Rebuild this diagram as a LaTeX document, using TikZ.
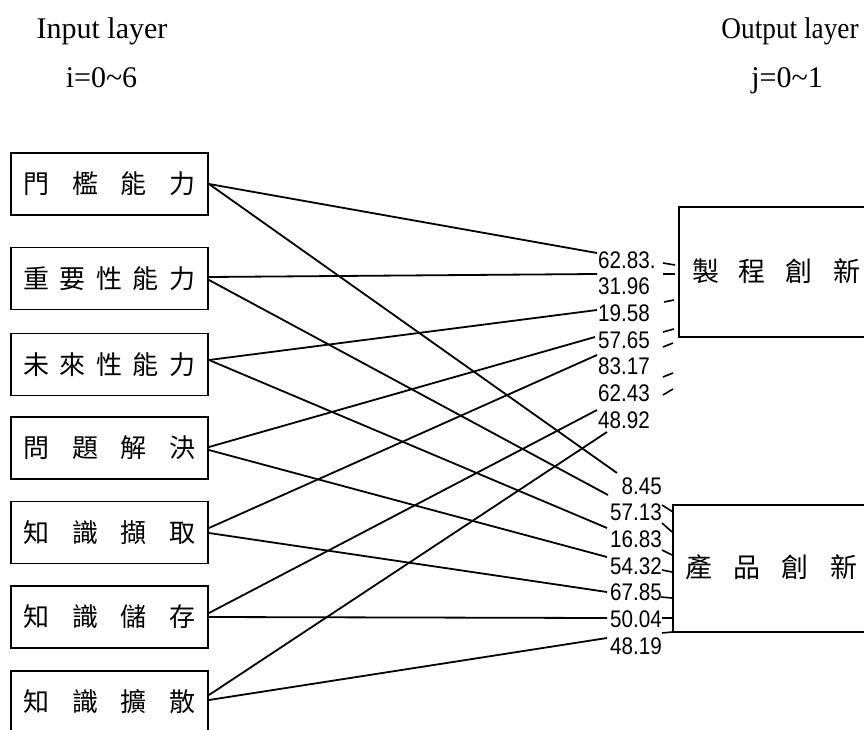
\documentclass[tikz,border=0pt]{standalone}
\usepackage{fontspec}
\setmainfont{Liberation Serif}
\newfontfamily\cjk{Noto Sans CJK TC}
\newfontfamily\numfont{Liberation Sans}
\usetikzlibrary{calc}
\begin{document}
\begin{tikzpicture}[x=1pt,y=-1pt,
  inbox/.style={draw, line width=1.9pt, minimum width=197pt, minimum height=62pt, inner sep=0pt, font=\cjk\fontsize{26}{26}\selectfont},
  outbox/.style={draw, line width=1.9pt, inner sep=0pt, font=\cjk\fontsize{27}{27}\selectfont},
  wlab/.style={inner sep=0pt, anchor=west, font=\numfont\fontsize{24}{24}\selectfont},
  elab/.style={inner sep=0pt, anchor=east, font=\numfont\fontsize{24}{24}\selectfont},
  hdr/.style={inner sep=0pt, anchor=base, font=\fontsize{30}{30}\selectfont},
  conn/.style={line width=1.8pt},
  tickmark/.style={line width=1.6pt}]
\useasboundingbox (0,0) rectangle (864,730);
\clip (0,0) rectangle (864,730);

% headers
\node[hdr] (hin) at (102,39) {Input layer};
\node[hdr] (hi) at (101.5,88) {i=0\textasciitilde 6};
\node[hdr] (hout) at (790,39) {\scalebox{0.91}[1]{Output layer}};
\node[hdr] (hj) at (787,88) {j=0\textasciitilde 1};

% input boxes
\node[inbox] (b1) at (109.5,184)   {\makebox[172pt]{門\hfill 檻\hfill 能\hfill 力}};
\node[inbox] (b2) at (109.5,278.5) {\makebox[172pt]{重\hfill 要\hfill 性\hfill 能\hfill 力}};
\node[inbox] (b3) at (109.5,364.5) {\makebox[172pt]{未\hfill 來\hfill 性\hfill 能\hfill 力}};
\node[inbox] (b4) at (109.5,448)   {\makebox[172pt]{問\hfill 題\hfill 解\hfill 決}};
\node[inbox] (b5) at (109.5,532.5) {\makebox[172pt]{知\hfill 識\hfill 擷\hfill 取}};
\node[inbox] (b6) at (109.5,617)   {\makebox[172pt]{知\hfill 識\hfill 儲\hfill 存}};
\node[inbox] (b7) at (109.5,702)   {\makebox[172pt]{知\hfill 識\hfill 擴\hfill 散}};

% output boxes
\node[outbox, minimum width=194pt, minimum height=130pt] (r1) at (776,272)
  {\raisebox{4pt}{\makebox[168pt]{製\hfill 程\hfill 創\hfill 新}}};
\node[outbox, minimum width=196pt, minimum height=127pt] (r2) at (771,568.5)
  {\raisebox{4.5pt}{\makebox[172pt]{產\hfill 品\hfill 創\hfill 新}}};

% weight labels (upper group)
\node[wlab] (t1) at (598,260) {\scalebox{0.86}[1]{62.83.}};
\node[wlab] (t2) at (598,286) {\scalebox{0.86}[1]{31.96}};
\node[wlab] (t3) at (598,313) {\scalebox{0.86}[1]{19.58}};
\node[wlab] (t4) at (598,340) {\scalebox{0.86}[1]{57.65}};
\node[wlab] (t5) at (598,366) {\scalebox{0.86}[1]{83.17}};
\node[wlab] (t6) at (598,393) {\scalebox{0.86}[1]{62.43}};
\node[wlab] (t7) at (598,420) {\scalebox{0.86}[1]{48.92}};
% weight labels (lower group)
\node[elab] (u1) at (662,486) {\scalebox{0.86}[1]{8.45}};
\node[elab] (u2) at (662,512) {\scalebox{0.86}[1]{57.13}};
\node[elab] (u3) at (662,539) {\scalebox{0.86}[1]{16.83}};
\node[elab] (u4) at (662,566) {\scalebox{0.86}[1]{54.32}};
\node[elab] (u5) at (662,592) {\scalebox{0.86}[1]{67.85}};
\node[elab] (u6) at (662,619) {\scalebox{0.86}[1]{50.04}};
\node[elab] (u7) at (662,646) {\scalebox{0.86}[1]{48.19}};

% connector end points
\coordinate (ea1) at (597,253);
\coordinate (ea2) at (597,274);
\coordinate (ea3) at (597,310);
\coordinate (ea4) at (595,337);
\coordinate (ea5) at (597,355);
\coordinate (ea6) at (597,410);
\coordinate (ea7) at (607,432);
\coordinate (eb1) at (617,473);
\coordinate (eb2) at (608,495);
\coordinate (eb3) at (607,528);
\coordinate (eb4) at (607,557);
\coordinate (eb5) at (607,592);
\coordinate (eb6) at (607,618);
\coordinate (eb7) at (607,638);

% connectors
\draw[conn] (b1.east) -- (ea1);
\draw[conn] (b1.east) -- (eb1);
\draw[conn] ($(b2.east)+(0,-1.5)$) -- (ea2);
\draw[conn] ($(b2.east)+(0,1.5)$) -- (eb2);
\draw[conn] ($(b3.east)+(0,-4.5)$) -- (ea3);
\draw[conn] ($(b3.east)+(0,-4.5)$) -- (eb3);
\draw[conn] ($(b4.east)+(0,-1)$) -- (ea4);
\draw[conn] ($(b4.east)+(0,2)$) -- (eb4);
\draw[conn] ($(b5.east)+(0,-4.5)$) -- (ea5);
\draw[conn] ($(b5.east)+(0,0.5)$) -- (eb5);
\draw[conn] ($(b6.east)+(0,-4)$) -- (ea6);
\draw[conn] (b6.east) -- (eb6);
\draw[conn] ($(b7.east)+(0,-7)$) -- (ea7);
\draw[conn] ($(b7.east)+(0,-2)$) -- (eb7);

% short broken strokes towards the output boxes
\draw[tickmark] (663,263) -- (675,265);
\draw[tickmark] (663,274) -- (675,274);
\draw[tickmark] (664,302) -- (674,300);
\draw[tickmark] (663,332) -- (674,329);
\draw[tickmark] (663,347) -- (673,343);
\draw[tickmark] (663,377) -- (673,373);
\draw[tickmark] (663,395) -- (673,389);
\draw[tickmark] (662,505) -- (673,512);
\draw[tickmark] (662,523) -- (672,532);
\draw[tickmark] (662,550) -- (672,555);
\draw[tickmark] (662,570) -- (672,572);
\draw[tickmark] (661,597) -- (672,598);
\draw[tickmark] (662,618) -- (672,618);
\draw[tickmark] (662,633) -- (672,632);
\end{tikzpicture}
\end{document}
